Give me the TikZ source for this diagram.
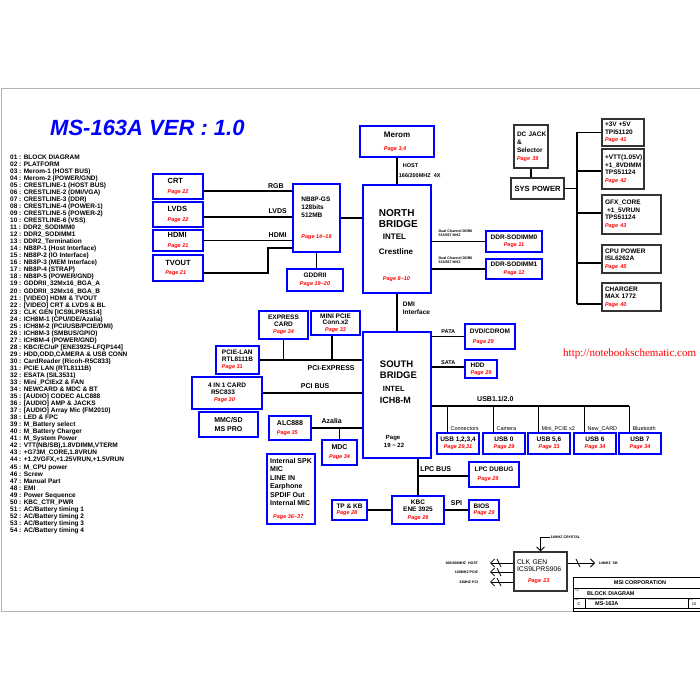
\documentclass[tikz,border=0pt]{standalone}
\usepackage{fontspec}
\setmainfont{Liberation Sans}
\newfontfamily\serifurl{Liberation Serif}
\usepackage{tikz}
\usetikzlibrary{arrows.meta}

\newcommand{\boxfont}{\bfseries\fontsize{6.5}{7.5}\selectfont}
\newcommand{\pagelbl}[1]{{\color{red}\bfseries\itshape\fontsize{5.5}{6}\selectfont Page #1}}

\tikzset{
  bluebox/.style 2 args={draw=blue, line width=1.3pt, minimum width=#1pt, minimum height=#2pt,
    inner sep=1pt, align=center, font=\boxfont},
  chip/.style 2 args={draw=blue, line width=2.5pt, minimum width=#1pt, minimum height=#2pt,
    inner sep=0pt, align=left, font=\bfseries\fontsize{6.5}{8}\selectfont},
  pwrbox/.style 2 args={draw=black!80, line width=1.3pt, minimum width=#1pt, minimum height=#2pt,
    text width=#1pt-6pt, inner xsep=3pt, inner ysep=0pt, align=left, font=\boxfont},
  vidtxt/.style={font=\bfseries\fontsize{7.5}{9.5}\selectfont},
  wire/.style={line width=1.8pt},
  drop/.style={line width=1.2pt},
  buslbl/.style={font=\bfseries\fontsize{7}{8}\selectfont, inner sep=1pt},
  smalllbl/.style={font=\bfseries\fontsize{5.5}{6}\selectfont, inner sep=1pt},
  usblbl/.style={font=\fontsize{5.5}{6}\selectfont, inner sep=0pt},
  tinylbl/.style={font=\bfseries\fontsize{3.6}{4}\selectfont, inner sep=0.5pt},
  clk/.style={line width=0.8pt, ->},
}

\begin{document}
\begin{tikzpicture}[>={Straight Barb[length=4pt,width=8pt]}, x=1pt, y=-1pt]
\useasboundingbox (0,0) rectangle (700,700);

% ---------- sheet frame ----------
\draw[gray!60, line width=0.8pt] (700,88) -- (1,88) -- (1,611) -- (700,611);

% ---------- title and page index ----------
\node[font=\bfseries\itshape\fontsize{22}{24}\selectfont, text=blue, anchor=west, inner sep=0]
  (title) at (50,128) {MS-163A VER : 1.0};

\node[anchor=north west, align=left, inner sep=0, font=\bfseries\fontsize{6.5}{7.04}\selectfont]
  (pagelist) at (10,154.5) {%
01 : BLOCK DIAGRAM\\
02 : PLATFORM\\
03 : Merom-1 (HOST BUS)\\
04 : Merom-2 (POWER/GND)\\
05 : CRESTLINE-1 (HOST BUS)\\
06 : CRESTLINE-2 (DMI/VGA)\\
07 : CRESTLINE-3 (DDR)\\
08 : CRESTLINE-4 (POWER-1)\\
09 : CRESTLINE-5 (POWER-2)\\
10 : CRESTLINE-6 (VSS)\\
11 : DDR2\_SODIMM0\\
12 : DDR2\_SODIMM1\\
13 : DDR2\_Termination\\
14 : NB8P-1 (Host Interface)\\
15 : NB8P-2 (IO Interface)\\
16 : NB8P-3 (MEM Interface)\\
17 : NB8P-4 (STRAP)\\
18 : NB8P-5 (POWER/GND)\\
19 : GDDRII\_32Mx16\_BGA\_A\\
20 : GDDRII\_32Mx16\_BGA\_B\\
21 : [VIDEO] HDMI \& TVOUT\\
22 : [VIDEO] CRT \& LVDS \& BL\\
23 : CLK GEN [ICS9LPRS514]\\
24 : ICH8M-1 (CPU/IDE/Azalia)\\
25 : ICH8M-2 (PCI/USB/PCIE/DMI)\\
26 : ICH8M-3 (SMBUS/GPIO)\\
27 : ICH8M-4 (POWER/GND)\\
28 : KBC/EC/uP [ENE3925-LFQP144]\\
29 : HDD,ODD,CAMERA \& USB CONN\\
30 : CardReader (Ricoh-R5C833)\\
31 : PCIE LAN (RTL8111B)\\
32 : ESATA (SIL3531)\\
33 : Mini\_PCIEx2 \& FAN\\
34 : NEWCARD \& MDC \& BT\\
35 : [AUDIO] CODEC ALC888\\
36 : [AUDIO] AMP \& JACKS\\
37 : [AUDIO] Array Mic (FM2010)\\
38 : LED \& FPC\\
39 : M\_Battery select\\
40 : M\_Battery Charger\\
41 : M\_System Power\\
42 : VTT(NB/SB),1.8VDIMM,VTERM\\
43 : +G73M\_CORE,1.8VRUN\\
44 : +1.2VGFX,+1.25VRUN,+1.5VRUN\\
45 : M\_CPU power\\
46 : Screw\\
47 : Manual Part\\
48 : EMI\\
49 : Power Sequence\\
50 : KBC\_CTR\_PWR\\
51 : AC/Battery timing 1\\
52 : AC/Battery timing 2\\
53 : AC/Battery timing 3\\
54 : AC/Battery timing 4};

% ---------- video outputs and graphics ----------
\node[bluebox={50}{25}, align=left, vidtxt] (crt)   at (178,186.5) {CRT\\\pagelbl{22}};
\node[bluebox={50}{25}, align=left, vidtxt] (lvds)  at (178,214.5) {LVDS\\\pagelbl{22}};
\node[bluebox={50}{21}, align=left, vidtxt] (hdmi)  at (178,240.5) {HDMI\\\pagelbl{21}};
\node[bluebox={50}{26}, align=left, vidtxt] (tvout) at (178,268)   {TVOUT\\\pagelbl{21}};

\node[chip={47}{68}] (gpu) at (316.5,218) {NB8P-GS\\128bits\\512MB\\[13pt]\pagelbl{14\textasciitilde18}};
\node[bluebox={56}{22}] (gddr) at (315,280) {GDDRII\\\pagelbl{19\textasciitilde20}};

\draw[wire] ([yshift=-4.5pt]crt.east) -- node[buslbl, above=1pt, pos=.82] (rgblbl) {RGB}
  ([yshift=-4.5pt]crt.east -| gpu.west);
\draw[wire] ([yshift=-2.5pt]lvds.east) -- node[buslbl, above=2pt, pos=.84] (lvdslbl) {LVDS}
  ([yshift=-2.5pt]lvds.east -| gpu.west);
\draw[wire] (hdmi.east) -- node[buslbl, above=1pt, pos=.84] (hdmilbl) {HDMI} (hdmi.east -| gpu.west);
\coordinate (tvbend) at (268,248);
\draw[wire] ([yshift=-5pt]tvout.east) -| (tvbend) -- (tvbend -| gpu.west);
\draw[wire] (gpu.south) -- (gpu.south |- gddr.north);

% ---------- CPU and north bridge ----------
\node[chip={74}{31}, font=\bfseries\fontsize{8}{8}\selectfont] (merom) at (397,141.5) {Merom\\[5pt]\pagelbl{3,4}};

\node[chip={68}{108}] (nb) at (397,239) {};
\node[anchor=north west, inner sep=0, align=left, font=\bfseries\fontsize{10}{10.5}\selectfont]
  (nbtxt) at ([xshift=17pt, yshift=-26pt]nb.north west)
  {NORTH\\BRIDGE\\[2pt]\hspace*{4pt}{\fontsize{8}{8}\selectfont INTEL}\\[4pt]%
   {\fontsize{8}{8}\selectfont Crestline}\\[16pt]\hspace*{4pt}\pagelbl{8\textasciitilde10}};

\node[bluebox={56}{21}] (ddr0) at (514,241.5) {DDR-SODIMM0\\\pagelbl{11}};
\node[bluebox={56}{20}] (ddr1) at (514,269)   {DDR-SODIMM1\\\pagelbl{12}};

\draw[wire] (merom.south) -- node[right, align=left, inner sep=1pt, font=\bfseries\fontsize{5.5}{10}\selectfont]
  (hostlbl) {\hspace*{4pt}HOST\\166/200MHZ\ \ 4X} (merom.south |- nb.north);
\draw[wire] (gpu.east) -- (gpu.east -| nb.west);
\draw[wire] (ddr0.west -| nb.east) -- node[tinylbl, anchor=south west, pos=0, xshift=5pt, yshift=4pt, align=left]
  (ddr0lbl) {Dual Channel DDRII\\533/667 MHZ} (ddr0.west);
\draw[wire] (ddr1.west -| nb.east) -- node[tinylbl, anchor=south west, pos=0, xshift=5pt, yshift=4pt, align=left]
  (ddr1lbl) {Dual Channel DDRII\\533/667 MHZ} (ddr1.west);

% ---------- power ----------
\node[pwrbox={34}{43}, font=\bfseries\fontsize{6.5}{8}\selectfont] (dcjack) at (531,146.5)
  {DC~JACK\\\&\\Selector\\\pagelbl{39}};
\node[pwrbox={53}{21}, align=center, font=\bfseries\fontsize{7.5}{8}\selectfont] (syspwr) at (537.5,188.5) {SYS POWER};

\node[pwrbox={42}{27}] (pw1) at (623,132.5) {+3V +5V\\TPI51120\\\pagelbl{41}};
\node[pwrbox={42}{40}] (pw2) at (623,169)   {+VTT(1.05V)\\+1\_8VDIMM\\TPS51124\\\pagelbl{42}};
\node[pwrbox={59}{39}] (pw3) at (631.5,214.5) {GFX\_CORE\\\hspace*{2pt}+1\_5VRUN\\TPS51124\\\pagelbl{43}};
\node[pwrbox={59}{28}] (pw4) at (631.5,259) {CPU POWER\\ISL6262A\\\pagelbl{45}};
\node[pwrbox={59}{28}] (pw5) at (631.5,297) {CHARGER\\MAX 1772\\\pagelbl{40}};

\coordinate (pwrbus) at (577,0);
\draw[wire] (dcjack.south) -- (dcjack.south |- syspwr.north);
\draw[wire] (syspwr.east) -- (syspwr.east -| pwrbus);
\draw[wire] (pw1.west -| pwrbus) -- ([yshift=-7pt]pw5.west -| pwrbus);
\foreach \p/\dy in {pw1/0, pw2/-2, pw3/1.5, pw4/-4, pw5/-7}
  \draw[wire] ([yshift=\dy pt]\p.west -| pwrbus) -- ([yshift=\dy pt]\p.west);

% ---------- PCI / PCIE / audio ----------
\node[bluebox={49}{28}, font=\bfseries\fontsize{6.5}{7}\selectfont] (express) at (283.5,325) {EXPRESS\\CARD\\\pagelbl{34}};
\node[bluebox={49}{24}, font=\bfseries\fontsize{6.5}{6.5}\selectfont] (minipcie) at (335.5,323) {MINI PCIE\\Conn.x2\\\pagelbl{33}};
\node[bluebox={43}{28}, align=left, font=\bfseries\fontsize{6.5}{7}\selectfont] (pcielan) at (237.5,360) {PCIE-LAN\\RTL8111B\\\pagelbl{31}};
\node[bluebox={70}{32}, align=left, font=\bfseries\fontsize{6.5}{7}\selectfont] (cardrd) at (227,393)
  {4 IN 1 CARD\\\hspace*{3pt}R5C833\\\hspace*{6pt}\pagelbl{30}};
\node[bluebox={59}{25}, font=\bfseries\fontsize{7}{9}\selectfont] (mmcsd) at (228.5,424.5) {MMC/SD\\MS PRO};
\node[bluebox={42}{24}, align=left, font=\bfseries\fontsize{7}{9.5}\selectfont] (alc) at (290,428) {ALC888\\\pagelbl{35}};
\node[bluebox={35}{25}, font=\bfseries\fontsize{7}{9}\selectfont] (mdc) at (339.5,452.5) {MDC\\\pagelbl{34}};
\node[bluebox={48}{70}, align=left, font=\bfseries\fontsize{7}{8.4}\selectfont] (audio) at (291,489)
  {Internal SPK\\MIC\\LINE IN\\Earphone\\SPDIF Out\\Internal MIC\\[4.6pt]\hspace*{3pt}\pagelbl{36\textasciitilde37}};

% ---------- south bridge ----------
\node[chip={68}{126}] (sb) at (397,395) {};
\node[anchor=north west, inner sep=0, align=left, font=\bfseries\fontsize{9.5}{11}\selectfont]
  (sbtxt) at ([xshift=18pt, yshift=-29.5pt]sb.north west)
  {SOUTH\\BRIDGE\\[2pt]\hspace*{3pt}{\fontsize{7.5}{8}\selectfont INTEL}\\[1pt]%
   {\fontsize{9}{9}\selectfont ICH8-M}\\[25pt]\hspace*{6pt}{\fontsize{6}{6}\selectfont Page}\\[-3pt]%
   \hspace*{4pt}{\fontsize{6}{6}\selectfont 19 \textasciitilde{} 22}};

\draw[wire] (nb.south) -- node[right, align=left, inner sep=1pt, xshift=4pt, yshift=4pt,
  font=\bfseries\fontsize{6.5}{8}\selectfont] (dmilbl) {DMI\\Interface} (sb.north);

\draw[wire] (pcielan.east) -- node[buslbl, below=4pt, pos=.7] (pcielbl) {PCI-EXPRESS} (pcielan.east -| sb.west);
\draw[wire] (express.south) -- (express.south |- pcielan.east);
\draw[wire] ([xshift=-3.5pt]minipcie.south) -- ([xshift=-3.5pt]minipcie.south |- pcielan.east);
\draw[wire] (cardrd.east) -- node[buslbl, above=2.5pt, pos=.53] (pcilbl) {PCI BUS} (cardrd.east -| sb.west);
\draw[wire] (alc.east) -- node[buslbl, above=2.5pt, pos=.4] (azlbl) {Azalia} (alc.east -| sb.west);
\draw[wire] (mdc.north) -- (mdc.north |- alc.east);

% ---------- storage ----------
\node[bluebox={50}{25}, align=left, font=\bfseries\fontsize{6.5}{8}\selectfont] (dvd) at (490,336.5)
  {DVD/CDROM\\[2pt]\hspace*{3pt}\pagelbl{29}};
\node[bluebox={32}{18}, align=left, font=\bfseries\fontsize{6.5}{7}\selectfont] (hdd) at (481,369) {HDD\\\pagelbl{29}};
\draw[wire] (dvd.west -| sb.east) -- node[smalllbl, above=1pt] (patalbl) {PATA} (dvd.west);
\draw[wire] ([yshift=2pt]hdd.west -| sb.east) -- node[smalllbl, above=1pt] (satalbl) {SATA} ([yshift=2pt]hdd.west);

\node[font=\serifurl\fontsize{11}{12}\selectfont, text=red, anchor=west, inner sep=0]
  (url) at (563,354) {http://notebookschematic.com};

% ---------- USB ----------
\node[bluebox={42}{21}, font=\bfseries\fontsize{6.5}{6.5}\selectfont] (usb1)  at (458,443.5) {USB 1,2,3,4\\\pagelbl{29,31}};
\node[bluebox={42}{21}, font=\bfseries\fontsize{6.5}{6.5}\selectfont] (usb0)  at (504,443.5) {USB 0\\\pagelbl{29}};
\node[bluebox={42}{21}, font=\bfseries\fontsize{6.5}{6.5}\selectfont] (usb56) at (549,443.5) {USB 5,6\\\pagelbl{33}};
\node[bluebox={42}{21}, font=\bfseries\fontsize{6.5}{6.5}\selectfont] (usb6)  at (595,443.5) {USB 6\\\pagelbl{34}};
\node[bluebox={42}{21}, font=\bfseries\fontsize{6.5}{6.5}\selectfont] (usb7)  at (640,443.5) {USB 7\\\pagelbl{34}};

\coordinate (usbbus) at ([yshift=-11pt]sb.east);
\draw[wire] (usbbus) -- node[buslbl, above=2.5pt, pos=.32] (usblbl) {USB1.1/2.0}
  ([xshift=11pt]usb7.north west |- usbbus);
\foreach \u/\t in {usb1/Connectors, usb0/Camera, usb56/Mini\_PCIE x2, usb6/New\_CARD, usb7/Bluetooth}{
  \draw[drop] ([xshift=11pt]\u.north west) -- ([xshift=11pt]\u.north west |- usbbus);
  \node[usblbl, anchor=base west] (\u-lbl) at ([xshift=14pt, yshift=1.5pt]\u.north west) {\t};
}

% ---------- LPC / KBC ----------
\node[bluebox={50}{25}, align=left, font=\bfseries\fontsize{6.5}{8}\selectfont] (lpcdbg) at (494,474.5)
  {LPC DUBUG\\[1pt]\hspace*{3pt}\pagelbl{29}};
\node[bluebox={52}{28}, font=\bfseries\fontsize{6.5}{7.5}\selectfont] (kbc) at (418,510) {KBC\\ENE 3925\\\pagelbl{28}};
\node[bluebox={35}{20}, align=left, font=\bfseries\fontsize{6.5}{6.5}\selectfont] (tpkb) at (349.5,510) {TP \& KB\\\pagelbl{28}};
\node[bluebox={30}{20}, align=left, font=\bfseries\fontsize{6.5}{6.5}\selectfont] (bios) at (484,510) {BIOS\\\pagelbl{29}};

\draw[wire] (kbc.north |- sb.south) -- (kbc.north);
\draw[wire] ([yshift=-1.5pt]lpcdbg.west -| kbc.north) -- node[buslbl, above=2.5pt, pos=.35] (lpclbl) {LPC BUS}
  ([yshift=-1.5pt]lpcdbg.west);
\draw[wire] (tpkb.east) -- (kbc.west);
\draw[wire] (kbc.east) -- node[buslbl, above=2.5pt] (spilbl) {SPI} (bios.west);

% ---------- clock generator ----------
\node[pwrbox={53}{39}, font=\fontsize{6.8}{7.3}\selectfont] (clkgen) at (540.5,571.5)
  {CLK GEN\\ICS9LPRS906\\[4pt]\hspace*{11pt}\pagelbl{23}};

\coordinate (xtal)    at (550,537);
\coordinate (clkhost) at (490,563);
\coordinate (clkpcie) at (490,572);
\coordinate (clkpci)  at (490,582);
\coordinate (clksb)   at (595,563);

\draw[clk] (xtal) -| (clkgen.north);
\node[tinylbl, anchor=west] (xtallbl) at (xtal) {14MHZ CRYSTAL};

\draw[clk] (clkhost -| clkgen.west) -- (clkhost) node[tinylbl, left=11pt] (hostclk) {166/200MHZ\ \ HOST};
\draw[clk] (clkpcie -| clkgen.west) -- (clkpcie) node[tinylbl, left=11pt] (pcieclk) {100MHZ PCIE};
\draw[clk] (clkpci -| clkgen.west) -- (clkpci) node[tinylbl, left=11pt] (pciclk) {33MHZ PCI};
\draw[clk] (clksb -| clkgen.east) -- (clksb) node[tinylbl, right=3pt] (sbclk) {14MHZ\ \ SB};

% bus slashes
\foreach \c/\dx in {clkhost/9, clkpcie/9, clkpci/9, clksb/-17}
  \draw[line width=0.8pt] ([xshift=\dx pt]\c) +(-2,-4) -- +(2,4);

% ---------- title block ----------
\draw[line width=1pt] (573,577) rectangle (700,611);
\draw[line width=1pt] (573,588) -- (700,588) (573,598) -- (700,598) (573,608) -- (700,608);
\draw[line width=1pt] (585,598) -- (585,608) (688,598) -- (688,608);
\node[font=\bfseries\fontsize{5.5}{6}\selectfont, inner sep=0] (corp) at (640,583) {MSI CORPORATION};
\node[font=\fontsize{2}{2}\selectfont, anchor=west, inner sep=0] (ttllbl) at (575,590.5) {Title};
\node[font=\bfseries\fontsize{5.5}{6}\selectfont, anchor=west, inner sep=0] (sheet) at (587,593.5) {BLOCK DIAGRAM};
\node[font=\fontsize{2}{2}\selectfont, anchor=west, inner sep=0] (sizelbl) at (574.5,600) {Size};
\node[font=\fontsize{4}{4}\selectfont, inner sep=0] (sizeval) at (579,604) {C};
\node[font=\fontsize{2}{2}\selectfont, anchor=west, inner sep=0] (doclbl) at (588,599.8) {Document Number};
\node[font=\bfseries\fontsize{5.5}{6}\selectfont, anchor=west, inner sep=0] (docval) at (595,604) {MS-163A};
\node[font=\fontsize{2}{2}\selectfont, anchor=west, inner sep=0] (revlbl) at (689,600) {Rev};
\node[font=\fontsize{4}{4}\selectfont, inner sep=0] (revval) at (694,604) {10};

\end{tikzpicture}
\end{document}
